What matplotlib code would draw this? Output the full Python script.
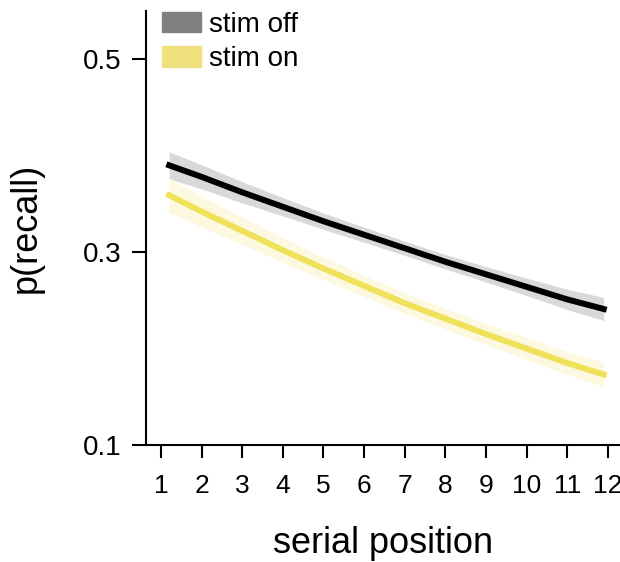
import matplotlib
matplotlib.use("Agg")
import matplotlib.pyplot as plt
from matplotlib.patches import Patch

plt.rcParams['font.family'] = ['Liberation Sans', 'DejaVu Sans']

# model predictions
serial_pos = [1.2, 2, 3, 4, 5, 6, 7, 8, 9, 10, 11, 11.9]
p_off = [0.390, 0.378, 0.362, 0.347, 0.332, 0.318, 0.304, 0.290, 0.277, 0.264, 0.251, 0.241]
ci_off = [0.014, 0.0125, 0.011, 0.0095, 0.0085, 0.0078, 0.0074, 0.0075, 0.008, 0.009, 0.0105, 0.012]
p_on = [0.359, 0.342, 0.322, 0.302, 0.283, 0.265, 0.247, 0.231, 0.215, 0.200, 0.185, 0.173]
ci_on = [0.0176, 0.016, 0.0142, 0.0128, 0.0117, 0.011, 0.0107, 0.0107, 0.011, 0.0115, 0.012, 0.0125]

x_ticks = list(range(1, 13))
y_ticks = [0.1, 0.3, 0.5]
labels = ['stim off', 'stim on']

fig = plt.figure(figsize=(6.2, 5.62), dpi=100)
ax = fig.add_axes([146 / 620, 1 - 445 / 562, 1 - 146 / 620, (445 - 11) / 562])

lo_off = [p - c for p, c in zip(p_off, ci_off)]
hi_off = [p + c for p, c in zip(p_off, ci_off)]
lo_on = [p - c for p, c in zip(p_on, ci_on)]
hi_on = [p + c for p, c in zip(p_on, ci_on)]

ax.fill_between(serial_pos, lo_off, hi_off, color='#d9d9d9', lw=0)
ax.fill_between(serial_pos, lo_on, hi_on, color='#fdf8e0', lw=0)
ax.plot(serial_pos, p_off, color='black', lw=4.3, solid_capstyle='projecting')
ax.plot(serial_pos, p_on, color='#f0e15a', lw=4.3, solid_capstyle='projecting')

ax.set_xlim(0.63, 12.3)
ax.set_ylim(0.1, 0.55)
ax.set_xticks(x_ticks)
ax.set_yticks(y_ticks)
ax.set_yticklabels([f'{v:.1f}' for v in y_ticks])

for s in ['top', 'right']:
    ax.spines[s].set_visible(False)
for s in ['left', 'bottom']:
    ax.spines[s].set_linewidth(1.5)

ax.tick_params(axis='x', length=9, width=1.5, pad=12, labelsize=19)
ax.tick_params(axis='y', length=10, width=1.5, pad=8, labelsize=20)

ax.set_xlabel('serial position', fontsize=26, labelpad=20)
ax.set_ylabel('p(recall)', fontsize=26, labelpad=28)

handles = [Patch(color='#808080'), Patch(color='#f0e17f')]
fig.legend(handles, labels, loc='upper left', bbox_to_anchor=(162 / 620, 1 - 12 / 562),
           frameon=False, fontsize=20, handlelength=1.4, handleheight=0.75,
           handletextpad=0.3, labelspacing=0.3, borderpad=0, borderaxespad=0)

fig.savefig('out.png', dpi=100)
